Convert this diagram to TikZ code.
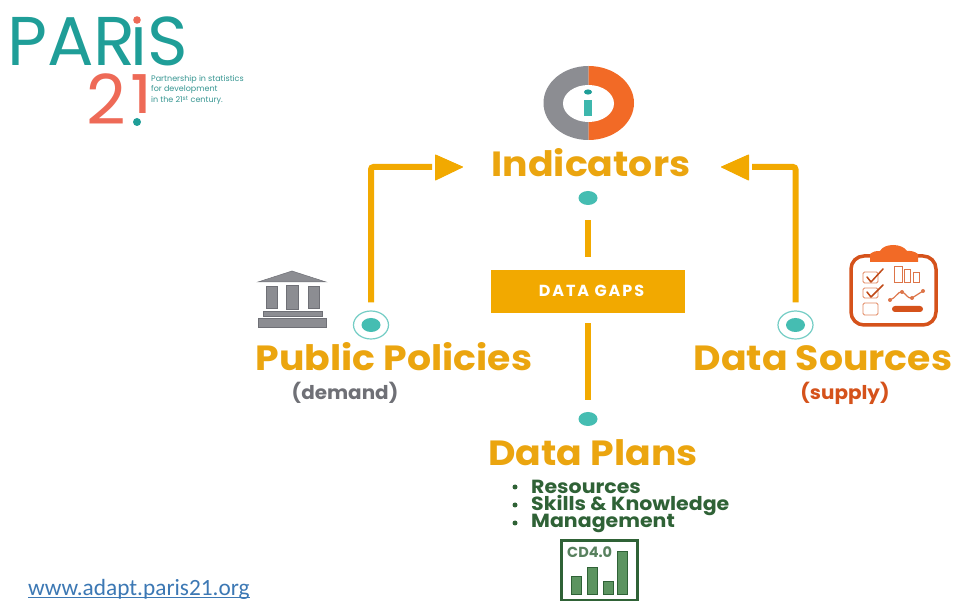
\documentclass[tikz,border=0pt]{standalone}
\usepackage{fontspec}
\setmainfont{Poppins}
\newfontfamily\urlfont{Carlito}
\usetikzlibrary{arrows.meta,shapes.geometric}
\definecolor{amber}{HTML}{F2A900}
\definecolor{headamber}{HTML}{EBA50F}
\definecolor{teal}{HTML}{1F9E98}
\definecolor{dotteal}{HTML}{45BDB2}
\definecolor{coral}{HTML}{EE6A57}
\definecolor{slate}{HTML}{8C8D92}
\definecolor{darkslate}{HTML}{6F7076}
\definecolor{tangerine}{HTML}{F26A26}
\definecolor{rust}{HTML}{D5521B}
\definecolor{leaf}{HTML}{2F6236}
\definecolor{leaffill}{HTML}{5C9460}
\definecolor{urlblue}{HTML}{3C78B4}
\tikzset{
  x=1pt,y=-1pt,
  label text/.style={inner sep=0pt,anchor=base},
  head/.style={label text,xscale=1.08,text=headamber,font=\fontsize{35}{35}\selectfont\bfseries},
  subhead/.style={label text,xscale=1.05,font=\fontsize{19}{19}\selectfont\bfseries},
  listitem/.style={label text,anchor=base west,xscale=1.08,text=leaf,font=\fontsize{19}{19}\selectfont\bfseries},
  tagline/.style={label text,anchor=base west,text=teal!75!gray,font=\fontsize{8}{8}\selectfont},
  bulletdot/.style={circle,fill=leaf,inner sep=0pt,minimum size=5pt},
  dotnode/.style={ellipse,fill=dotteal,draw=none,inner sep=0pt,minimum width=19pt,minimum height=14pt},
  ringnode/.style={ellipse,draw=dotteal!75,line width=1.2pt,fill=white,inner sep=0pt,minimum width=35pt,minimum height=28pt},
  conn/.style={draw=amber,line width=6pt},
  bentconn/.style={conn,rounded corners=2.5pt},
  arrowhead/.style={fill=amber,draw=amber,line width=1pt,line join=round},
  pillar/.style={fill=slate,draw=darkslate,line width=.5pt},
  bar/.style={fill=leaffill,draw=leaf,line width=1pt},
  checkbox/.style={draw=rust!70,line width=.9pt,rounded corners=1.5pt},
  tick/.style={draw=rust!90!black,line width=1.5pt,line cap=round,line join=round},
}
\begin{document}
\begin{tikzpicture}
\useasboundingbox (0,0) rectangle (954,601);
\fill[white] (0,0) rectangle (954,601);

% logo
\node[label text,anchor=base west,text=teal,font=\fontsize{69}{69}\selectfont] (logotext) at (7,66) {PAR\kern-5pt iS};
\fill[white] (138,15) circle (7);
\fill[coral] (137,20) circle (3.8);
\node[label text,anchor=base west,text=coral,font=\fontsize{69}{69}\selectfont] (logonum) at (86,125) {2\kern5pt 1};
\fill[white] (126,113) rectangle (148,128);
\fill[teal] (137,122) circle (4);
\node[tagline] (tag1) at (151,82) {Partnership in statistics};
\node[tagline] (tag2) at (151,92) {for development};
\node[tagline] (tag3) at (151,103) {in the 21\textsuperscript{st} century.};

% indicators icon
\fill[slate] (588.5,140) arc[start angle=90,end angle=270,x radius=45,y radius=37] -- cycle;
\fill[tangerine] (588.5,140) arc[start angle=90,end angle=-90,x radius=45.5,y radius=37] -- cycle;
\fill[white] (588.5,103.5) ellipse (25.5 and 18.5);
\fill[dotteal!80!teal] (584,100) rectangle (592,116);
\fill[teal] (588,92) ellipse (4 and 2.6);

% labels
\node[head] (indicators) at (591,177) {Indicators};
\node[head] (policies) at (394,371) {Public Policies};
\node[head] (sources) at (823,371) {Data Sources};
\node[head] (plans) at (593,466) {Data Plans};
\node[subhead,text=darkslate] (demand) at (345,399.5) {(demand)};
\node[subhead,text=rust] (supply) at (845,399.5) {(supply)};

% dots and rings
\node[dotnode] (topdot) at (588,198) {};
\node[dotnode] (plandot) at (588,419) {};
\node[ringnode] (pubring) at (371,325) {};
\node[dotnode] (pubdot) at (371,325) {};
\node[ringnode] (srcring) at (795.5,325) {};
\node[dotnode] (srcdot) at (795.5,325) {};

% data gaps
\node[draw=none,fill=amber,minimum width=194pt,minimum height=43pt,inner sep=0pt,text=white,font=\fontsize{16}{16}\selectfont\bfseries] (gaps) at (588,291.5) {\raisebox{2pt}{\hspace{7pt}\addfontfeature{LetterSpace=12}DATA GAPS}};

% connectors
\coordinate (endL) at (432,167);
\coordinate (endR) at (752,167);
\draw[bentconn,shorten <=8pt] (pubring.north) |- (endL);
\draw[bentconn,shorten <=8pt] (srcring.north) |- (endR);
\draw[arrowhead] (endL) ++(3.5,-12) -- ++(27,12) -- ++(-27,13) -- cycle;
\draw[arrowhead] (endR) ++(-3.5,-12) -- ++(-27,12) -- ++(27,13) -- cycle;
\draw[conn,shorten <=15pt,shorten >=13pt] (topdot.south) -- (gaps.north);
\draw[conn,shorten <=10pt,shorten >=12pt] (gaps.south) -- (plandot.north);

% building
\fill[slate,draw=darkslate,line width=.5pt] (258,282) -- (292,271) -- (326,282) -- cycle;
\fill[pillar] (266,286) rectangle (277,308);
\fill[pillar] (286,285) rectangle (298,309);
\fill[pillar] (308,286) rectangle (319,308);
\fill[pillar] (263,311) rectangle (322,316);
\fill[pillar] (258,318) rectangle (326,327);

% clipboard
\draw[rust,line width=3.5pt,rounded corners=13pt,fill=white] (851,256) rectangle (936,325);
\fill[tangerine] (870,262) -- (870,254) to[bend left=20] (880,251) .. controls (884,243) and (902,243) .. (907,251) to[bend left=20] (918,254) -- (918,262) -- cycle;
\draw[checkbox] (863,272) rectangle (878,283);
\draw[checkbox] (863,288) rectangle (878,298);
\draw[checkbox] (863,303) rectangle (878,315);
\draw[tick] (867,277) -- (871,282) -- (883,269);
\draw[tick] (867,292) -- (871,297) -- (883,285);
\draw[rust!80,line width=1pt] (894,267) rectangle (902,283);
\draw[rust!80,line width=1pt] (904,270) rectangle (910,283);
\draw[rust!80,line width=1pt] (913,273) rectangle (919,283);
\draw[rust!80,line width=1.2pt] (890,300) .. controls (896,298) and (898,291) .. (902,292) .. controls (906,293) and (907,299) .. (912,298) -- (923,291);
\fill[rust!80] (890,300) circle (2);
\fill[rust!80] (902,292) circle (2);
\fill[rust!80] (912,298) circle (2);
\fill[rust!80] (923,291) circle (2);
\fill[rust,rounded corners=3pt] (892,306) rectangle (923,312);

% list
\node[bulletdot] (b1) at (515,487) {};
\node[bulletdot] (b2) at (515,505) {};
\node[bulletdot] (b3) at (515,523) {};
\node[listitem] (i1) at (531,493.5) {Resources};
\node[listitem] (i2) at (531,510.5) {Skills \& Knowledge};
\node[listitem] (i3) at (531,528) {Management};

% CD4.0 icon
\draw[leaf,line width=3pt,fill=white] (561,541) rectangle (637,600);
\node[label text,anchor=base west,text=leaf!80!white,font=\fontsize{14.5}{14.5}\selectfont\bfseries] (cd) at (567,558) {CD4.0};
\draw[bar] (571,577) rectangle (581,594);
\draw[bar] (587,568) rectangle (597,594);
\draw[bar] (603,582) rectangle (613,594);
\draw[bar] (617,552) rectangle (627,594);

% url
\node[label text,anchor=base west,text=urlblue,font=\urlfont\fontsize{23.3}{23.3}\selectfont] (url) at (28,595) {www.adapt.paris21.org};
\draw[urlblue,line width=1pt] (28,597.5) -- (url.base east |- 0,597.5);
\end{tikzpicture}
\end{document}
